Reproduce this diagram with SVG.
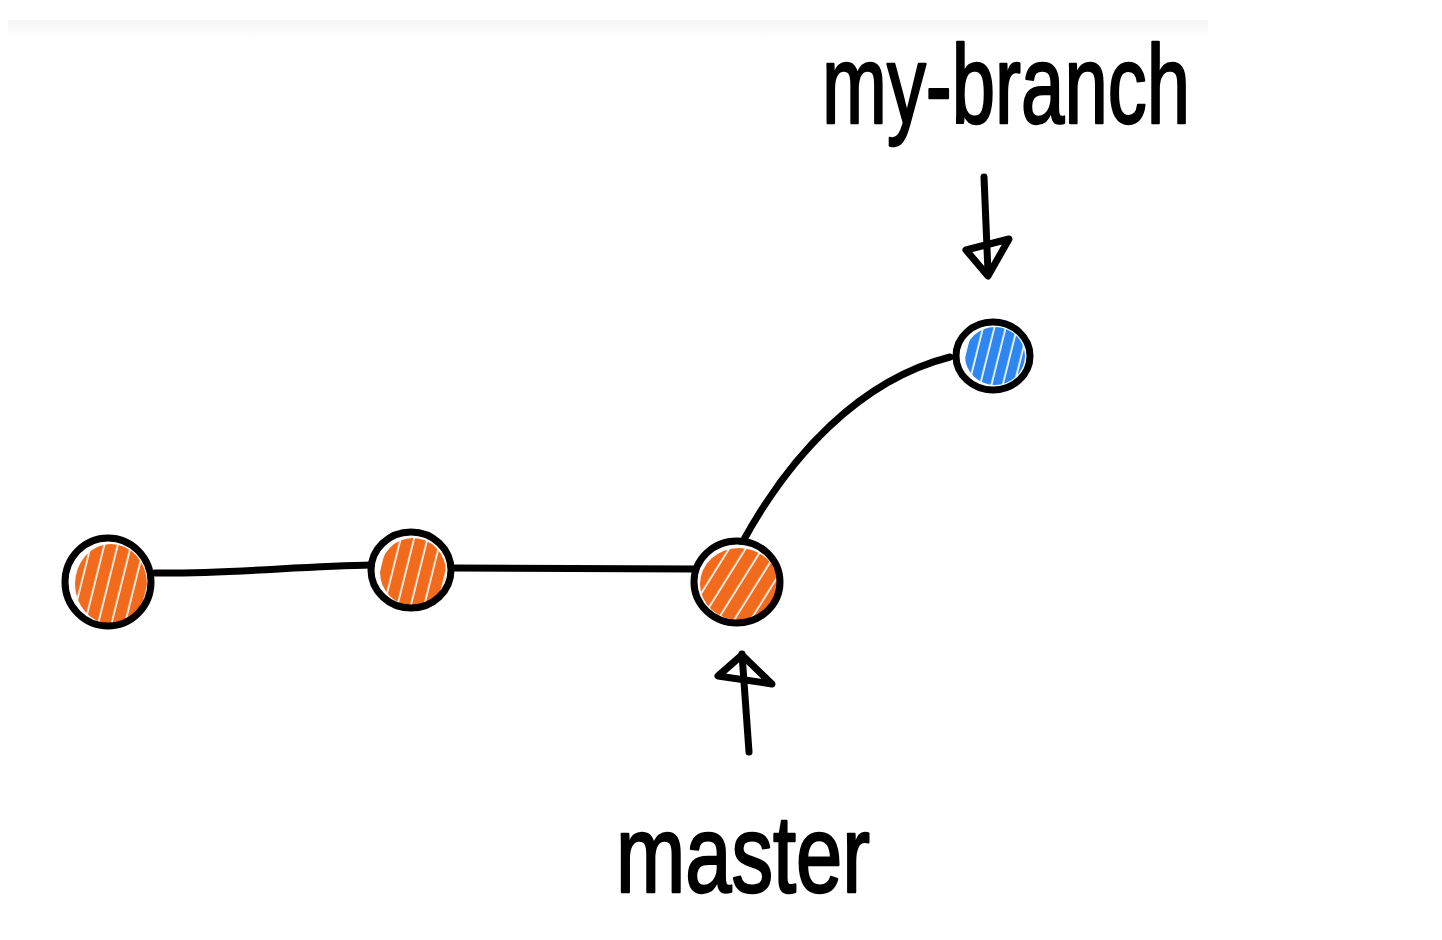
<svg xmlns="http://www.w3.org/2000/svg" width="1442" height="940" viewBox="0 0 1442 940">
  <defs>
    <linearGradient id="band" x1="0" y1="0" x2="0" y2="1">
      <stop offset="0" stop-color="#f4f4f4"/>
      <stop offset="1" stop-color="#ffffff"/>
    </linearGradient>
    <pattern id="hatchO" width="13" height="13" patternUnits="userSpaceOnUse" patternTransform="rotate(14)">
      <rect width="13" height="13" fill="#ffffff"/>
      <rect x="0" width="11.3" height="13" fill="#f26a1b"/>
    </pattern>
    <pattern id="hatchO2" width="14" height="14" patternUnits="userSpaceOnUse" patternTransform="rotate(32)">
      <rect width="14" height="14" fill="#ffffff"/>
      <rect x="0" width="12.3" height="14" fill="#f26a1b"/>
    </pattern>
    <pattern id="hatchB" width="11" height="11" patternUnits="userSpaceOnUse" patternTransform="rotate(14)">
      <rect width="11" height="11" fill="#ffffff"/>
      <rect x="0" width="9.3" height="11" fill="#2e86f0"/>
    </pattern>
  </defs>
  <style>
    .ol{fill:none;stroke:#000;stroke-width:7}
    .ln{fill:none;stroke:#000;stroke-width:7;stroke-linecap:round;stroke-linejoin:round}
    .lbl{font-family:"Liberation Sans",Arial,sans-serif;font-weight:normal;fill:#000;stroke:#000;stroke-width:2.5;stroke-linejoin:round}
  </style>
  <rect width="1442" height="940" fill="#ffffff"/>
  <rect x="8" y="20" width="1200" height="18" fill="url(#band)"/>

  <g id="connectors">
    <path class="ln" d="M155,573 C230,574 300,566 372,565"/>
    <path class="ln" d="M452,568 C540,569 620,569 695,569"/>
    <path class="ln" d="M742,543 C790,455 860,380 950,357"/>
  </g>

  <g id="c1">
    <ellipse cx="108" cy="582" rx="40" ry="41" fill="#fff"/>
    <ellipse cx="111" cy="584" rx="36" ry="40" fill="url(#hatchO)"/>
    <ellipse class="ol" cx="108" cy="582" rx="43" ry="44"/>
  </g>
  <g id="c2">
    <ellipse cx="411" cy="570" rx="37" ry="35" fill="#fff"/>
    <ellipse cx="413" cy="572" rx="33" ry="34" fill="url(#hatchO)"/>
    <ellipse class="ol" cx="411" cy="570" rx="40" ry="38"/>
  </g>
  <g id="c3">
    <ellipse cx="737" cy="582" rx="40" ry="38" fill="#fff"/>
    <ellipse cx="739" cy="584" rx="39" ry="36" fill="url(#hatchO2)"/>
    <ellipse class="ol" cx="737" cy="582" rx="43" ry="41"/>
  </g>
  <g id="c4">
    <ellipse cx="993" cy="356" rx="34" ry="31" fill="#fff"/>
    <ellipse cx="995" cy="356" rx="30" ry="29" fill="url(#hatchB)"/>
    <ellipse class="ol" cx="993" cy="356" rx="37" ry="34"/>
  </g>

  <g id="my-branch">
    <text class="lbl" x="822" y="123" font-size="112" textLength="368" lengthAdjust="spacingAndGlyphs">my-branch</text>
    <path class="ln" d="M984,177 L988,272"/>
    <path class="ln" d="M966,250 L1009,239 L988,276 Z"/>
  </g>

  <g id="master">
    <text class="lbl" x="616" y="892" font-size="110" textLength="254" lengthAdjust="spacingAndGlyphs">master</text>
    <path class="ln" d="M742,654 L749,752"/>
    <path class="ln" d="M742,655 L718,676 L772,684 Z"/>
  </g>
</svg>
